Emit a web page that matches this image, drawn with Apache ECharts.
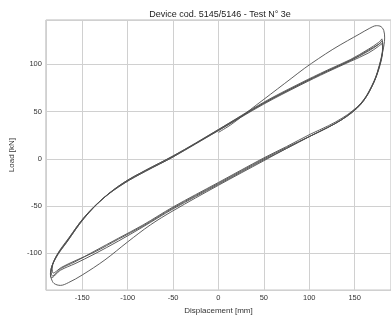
<!DOCTYPE html>
<html>
<head>
<meta charset="utf-8">
<script src="https://cdn.jsdelivr.net/npm/echarts@6/dist/echarts.min.js"></script>
<style>html,body{margin:0;padding:0;background:#fff}#c{width:391px;height:320px}</style>
</head>
<body>
<div id="c"></div>
<script>
var titleText = 'Device cod. 5145/5146 - Test N° 3e';
var xName = 'Displacement [mm]';
var yName = 'Load [kN]';
var xMin = -190, xMax = 190;
var yMin = -139, yMax = 147;

// first (outer) cycle
var cycle1 = [[0,28],[15,37],[35,52],[50,63],[65,74],[80,85],[95,96],[110,106],[126,116],[142,125],[155,132],[166,138],[174,141],[179,140],[182,136],[183,128],
  [181,114],[175,91],[166,71],[157,58],[147,49],[135,41],[120,33],[101,24],[75,12],[50,0],[0,-26],[-50,-52],[-83,-71],[-110,-85],[-137,-99],[-158,-108],[-173,-115],[-182,-121],
  [-183,-116],[-178,-102],[-165,-84],[-147,-61],[-126,-41],[-104,-25],[-80,-12],[-50,3],[0,30],[50,58],[90,78],[120,92],[145,103],[165,112],[176,119],[180,122]];
var cycle2 = [[180,122],[181,117],[176,93],[167,73],[158,60],[148,51],[136,43],[121,35],[101,26],[75,13],[50,1],[0,-25],[-50,-51],[-83,-70],[-110,-84],[-137,-98],[-158,-109],[-173,-116],[-183,-124],
  [-184,-119],[-179,-104],[-166,-86],[-148,-62],[-126,-41],[-104,-25],[-80,-12],[-50,3],[0,31],[50,59],[90,79],[120,93],[145,104],[165,114],[176,121],[180,125]];
var cycle3 = [[180,125],[181,119],[175,91],[166,71],[157,58],[147,49],[135,41],[120,33],[101,24],[75,11],[50,-1],[0,-27],[-50,-53],[-83,-72],[-110,-87],[-137,-101],[-158,-111],[-174,-118],[-184,-126],
  [-185,-121],[-179,-105],[-166,-87],[-148,-63],[-127,-42],[-104,-26],[-80,-13],[-50,2],[0,31],[50,60],[90,80],[120,94],[145,105],[165,116],[176,123],[180,127]];
var cycle4 = [[180,127],[181,121],[175,92],[166,72],[157,59],[147,50],[135,41],[120,33],[101,24],[75,11],[50,-2],[0,-28],[-50,-55],[-75,-70],[-100,-88],[-125,-107],[-150,-123],[-165,-131],[-174,-134],[-181,-132],[-184,-127],
  [-185,-122],[-180,-106],[-167,-88],[-148,-63],[-127,-42],[-104,-26],[-80,-13],[-50,2],[0,30],[50,59],[90,79],[120,93],[145,104],[165,115],[176,121],[179,123]];

var cycles = [cycle1, cycle2, cycle3, cycle4];

var chart = echarts.init(document.getElementById('c'), null, {renderer: 'canvas'});
var series = cycles.map(function (d) {
  return {
    type: 'line', data: d, showSymbol: false, smooth: 0.35,
    lineStyle: {color: '#4d4d4d', width: 0.9}, silent: true, animation: false
  };
});
chart.setOption({
  animation: false,
  title: {text: titleText, left: 215, top: 5, textAlign: 'center',
    textStyle: {fontFamily: 'Liberation Sans', fontSize: 9, fontWeight: 'normal', color: '#222'}},
  grid: {left: 40.5, top: 20, width: 352, height: 274, show: true, borderColor: '#bbb', borderWidth: 1},
  xAxis: {
    type: 'value', min: xMin, max: xMax, splitNumber: 8,
    name: xName, nameLocation: 'middle', nameGap: 15,
    nameTextStyle: {fontFamily: 'Liberation Sans', fontSize: 8, color: '#333'},
    axisLine: {show: false}, axisTick: {show: false},
    axisLabel: {fontFamily: 'Liberation Sans', fontSize: 7.5, color: '#333', margin: 4, showMinLabel: false, showMaxLabel: false},
    splitLine: {show: true, lineStyle: {color: '#d0d0d0', width: 1}}
  },
  yAxis: {
    type: 'value', min: yMin, max: yMax, splitNumber: 6,
    name: yName, nameLocation: 'middle', nameGap: 24, nameRotate: 90,
    nameTextStyle: {fontFamily: 'Liberation Sans', fontSize: 8, color: '#333'},
    axisLine: {show: false}, axisTick: {show: false},
    axisLabel: {fontFamily: 'Liberation Sans', fontSize: 7.5, color: '#333', margin: 4, showMinLabel: false, showMaxLabel: false},
    splitLine: {show: true, lineStyle: {color: '#d0d0d0', width: 1}}
  },
  series: series
});
</script>
</body>
</html>
